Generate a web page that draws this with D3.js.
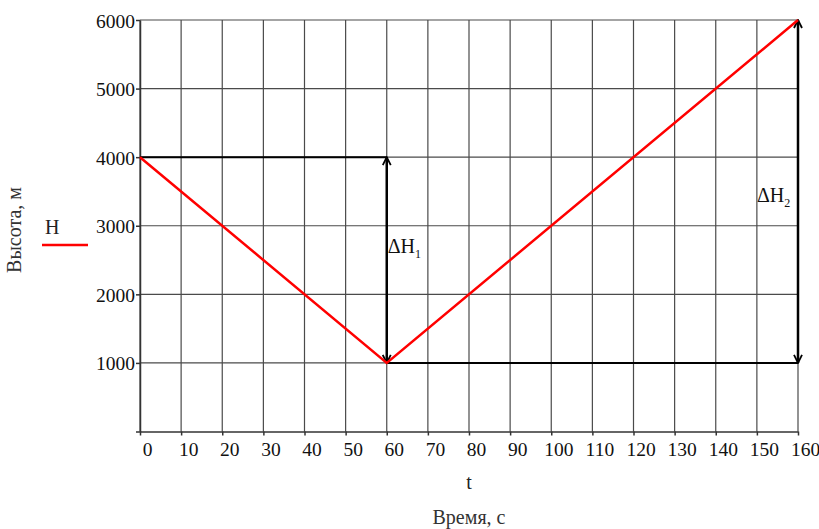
<!DOCTYPE html>
<html>
<head>
<meta charset="utf-8">
<script src="https://cdn.jsdelivr.net/npm/d3@7"></script>
<style>
  body { margin: 0; background: #fff; }
  svg { display: block; font-family: "Liberation Serif", "DejaVu Serif", serif; }
</style>
</head>
<body>
<div id="chart"></div>
<script>
// data
const timeTicks = d3.range(0, 161, 10);
const heightTicks = [1000, 2000, 3000, 4000, 5000, 6000];
const seriesT = [0, 60, 160];
const seriesH = [4000, 1000, 6000];
const deltas = [
  { name: "1", t: 60, from: 4000, to: 1000, labelH: 2600 },
  { name: "2", t: 160, from: 6000, to: 1000, labelH: 3350 },
];

const width = 819, height = 529;
const svg = d3.select("#chart").append("svg")
  .attr("width", width).attr("height", height);

const x = d3.scaleLinear().domain([0, 160]).range([140, 798]);
const y = d3.scaleLinear().domain([0, 6000]).range([431.5, 20]);

// grid
const grid = svg.append("g").attr("stroke", "#4a4a4a").attr("stroke-width", 1.2);
grid.selectAll("line.v").data(timeTicks).join("line")
  .attr("x1", d => x(d)).attr("x2", d => x(d))
  .attr("y1", y(6000)).attr("y2", y(0));
grid.selectAll("line.h").data(heightTicks).join("line")
  .attr("x1", x(0)).attr("x2", x(160))
  .attr("y1", d => y(d)).attr("y2", d => y(d));

// axes
const xAxis = svg.append("g")
  .attr("transform", `translate(0,${y(0)})`)
  .call(d3.axisBottom(x).tickValues(timeTicks).tickSize(4).tickPadding(7).tickSizeOuter(0));
const yAxis = svg.append("g")
  .attr("transform", `translate(${x(0)},0)`)
  .call(d3.axisLeft(y).tickValues([0, ...heightTicks]).tickSize(4).tickPadding(1).tickSizeOuter(0)
    .tickFormat(d => d === 0 ? "" : d));
[xAxis, yAxis].forEach(a => {
  a.select(".domain").attr("stroke", "#333").attr("stroke-width", 1.5);
  a.selectAll(".tick line").attr("stroke", "#333").attr("stroke-width", 1.5);
  a.selectAll("text").attr("font-family", "Liberation Serif, serif")
    .attr("font-size", 19.5).attr("fill", "#111");
});
xAxis.selectAll("text").attr("dx", 7);
yAxis.selectAll("text").attr("dy", "0.36em");

// reference lines
svg.append("defs").append("marker")
  .attr("id", "arr").attr("viewBox", "0 0 10 10")
  .attr("refX", 9).attr("refY", 5)
  .attr("markerWidth", 10).attr("markerHeight", 10)
  .attr("markerUnits", "userSpaceOnUse")
  .attr("orient", "auto-start-reverse")
  .append("path").attr("d", "M1,1 L9,5 L1,9")
  .attr("fill", "none").attr("stroke", "#000").attr("stroke-width", 1.8);

const ref = svg.append("g").attr("stroke", "#000").attr("stroke-width", 2);
ref.append("line").attr("x1", x(0)).attr("x2", x(60))
  .attr("y1", y(4000)).attr("y2", y(4000));
ref.append("line").attr("x1", x(60)).attr("x2", x(160))
  .attr("y1", y(1000)).attr("y2", y(1000));
ref.selectAll("line.arrow").data(deltas).join("line")
  .attr("x1", d => x(d.t)).attr("x2", d => x(d.t))
  .attr("y1", d => y(d.from)).attr("y2", d => y(d.to))
  .attr("stroke-width", 2.5)
  .attr("marker-start", "url(#arr)").attr("marker-end", "url(#arr)");

// series
const line = d3.line().x(d => x(d[0])).y(d => y(d[1]));
svg.append("path")
  .datum(seriesT.map((t, i) => [t, seriesH[i]]))
  .attr("d", line)
  .attr("fill", "none").attr("stroke", "#ff0000").attr("stroke-width", 2.5);

// delta labels
const lbl = svg.selectAll("text.delta").data(deltas).join("text")
  .attr("x", d => x(d.t) + (d.t === 60 ? 1 : -41))
  .attr("y", d => y(d.labelH))
  .attr("font-size", 20).attr("fill", "#111");
lbl.append("tspan").text("ΔH");
lbl.append("tspan").attr("font-size", 12).attr("dy", 5).text(d => d.name);

// axis titles
svg.append("text")
  .attr("transform", `translate(21,230) rotate(-90)`)
  .attr("text-anchor", "middle").attr("font-size", 20).attr("fill", "#333")
  .text("Высота, м");
svg.append("text").attr("x", 45).attr("y", 234)
  .attr("font-size", 20).attr("fill", "#222").text("H");
svg.append("line").attr("x1", 42).attr("x2", 88).attr("y1", 245).attr("y2", 245)
  .attr("stroke", "#ff0000").attr("stroke-width", 2.5);

svg.append("text").attr("x", x(80)).attr("y", 489)
  .attr("text-anchor", "middle").attr("font-size", 20).attr("fill", "#222").text("t");
svg.append("text").attr("x", x(80)).attr("y", 524)
  .attr("text-anchor", "middle").attr("font-size", 20).attr("fill", "#333").text("Время, с");
</script>
</body>
</html>
